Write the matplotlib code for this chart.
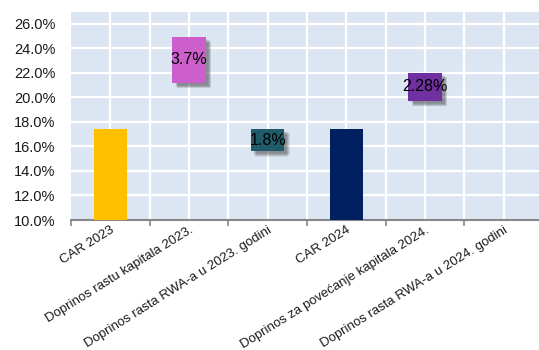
import matplotlib
matplotlib.use("Agg")
import matplotlib.pyplot as plt
import matplotlib.patheffects as pe
from matplotlib.ticker import FuncFormatter, MultipleLocator

plt.rcParams['font.family'] = ['Liberation Sans', 'DejaVu Sans']

# Capital adequacy ratio bridge, 2023 -> 2024
categories = [
    "CAR 2023",
    "Doprinos rastu kapitala 2023.",
    "Doprinos rasta RWA-a u 2023. godini",
    "CAR 2024",
    "Doprinos za povećanje kapitala 2024.",
    "Doprinos rasta RWA-a u 2024. godini",
]
values = [17.4, 3.7, 1.8, 17.4, 2.28, 0.0]      # bar heights, %
bases = [0.0, 21.2, 15.6, 0.0, 19.72, 0.0]     # bar bottoms, %
labels = ["", "3.7%", "1.8%", "", "2.28%", ""]
colors = ["#FFC000", "#CC5FCC", "#215A68", "#002060", "#7030A0", "#FFFFFF"]
floating = [False, True, True, False, True, False]

fig = plt.figure(figsize=(5.39, 3.50), dpi=100)
ax = fig.add_axes([71 / 539, 1 - 220 / 350, 472 / 539, (220 - 11.5) / 350])
ax.set_facecolor("#DCE6F2")

n = len(categories)
ax.set_xlim(-0.5, n - 0.5)
ax.set_ylim(10, 27)

# white grid: horizontal at every 2 %, vertical at every half category
ax.yaxis.set_major_locator(MultipleLocator(2))
for y in range(12, 27, 2):
    ax.axhline(y, color="white", lw=1.6, zorder=0.5)
for k in range(1, 2 * n):
    ax.axvline(-0.5 + k * 0.5, color="white", lw=1.6, zorder=0.5)

# soft drop shadow for the floating bars
shadow = [pe.SimplePatchShadow(offset=(dx, dy), shadow_rgbFace="#404040", alpha=0.09)
          for dx, dy in [(1.5, -1.5), (2.2, -2.2), (2.9, -2.9), (3.6, -3.6),
                         (2.2, -3.4), (3.4, -2.2), (2.9, -4.0), (4.0, -2.9)]] + [pe.Normal()]

x = list(range(n))
for i in x:
    if values[i] <= 0:
        continue
    bar = ax.bar(i, values[i], bottom=bases[i], width=0.42, color=colors[i],
                 zorder=3)[0]
    if floating[i]:
        bar.set_path_effects(shadow)
        ax.text(i, bases[i] + values[i] / 2, labels[i], ha="center", va="center",
                fontsize=11.5, color="black", zorder=5)

ax.yaxis.set_major_formatter(FuncFormatter(lambda v, _: f"{v:.1f}%"))
ax.tick_params(axis="y", length=0, labelsize=10.5, pad=11, colors="#1a1a1a")

# category ticks at boundaries, names at centers
ax.set_xticks([i - 0.5 for i in range(n)])
ax.set_xticklabels([])
ax.tick_params(axis="x", which="major", length=4, width=1.2, color="#888888")
ax.set_xticks(x, minor=True)
ax.set_xticklabels(categories, minor=True, rotation=32, ha="right",
                   rotation_mode="anchor", fontsize=9.5, color="#1a1a1a")
ax.tick_params(axis="x", which="minor", length=0, pad=3)

for s in ["top", "right", "left"]:
    ax.spines[s].set_visible(False)
ax.spines["bottom"].set_color("#888888")
ax.spines["bottom"].set_linewidth(1.5)

fig.savefig("out.png", dpi=100)
